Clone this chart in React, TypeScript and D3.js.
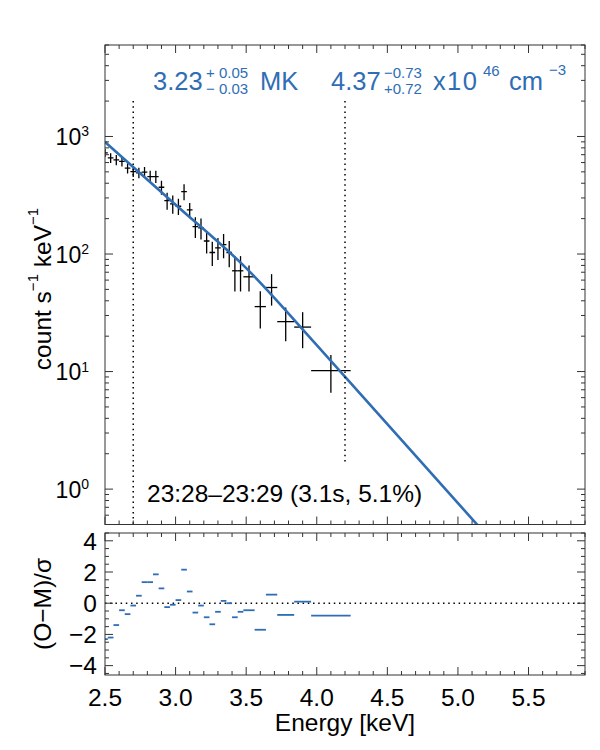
import React from "react";
import * as d3 from "d3";

const width = 600;
const height = 750;
const left = 105;
const right = 585;
const specTop = 45;
const specBottom = 524.5;
const resTop = 533;
const resBottom = 675;

const blue = "#2f6db5";
const frameColor = "#333";
const font = "'Liberation Sans', Arial, Helvetica, sans-serif";

// energy bins [keV]
const binLo = [
  2.48, 2.52, 2.56, 2.6, 2.64, 2.68, 2.72, 2.76, 2.8, 2.84, 2.88, 2.92, 2.96,
  3.0, 3.04, 3.08, 3.12, 3.16, 3.2, 3.24, 3.28, 3.32, 3.36, 3.4, 3.44, 3.48,
  3.56, 3.64, 3.72, 3.84, 3.96,
];
const binHi = [
  2.52, 2.56, 2.6, 2.64, 2.68, 2.72, 2.76, 2.8, 2.84, 2.88, 2.92, 2.96, 3.0,
  3.04, 3.08, 3.12, 3.16, 3.2, 3.24, 3.28, 3.32, 3.36, 3.4, 3.44, 3.48, 3.56,
  3.64, 3.72, 3.84, 3.96, 4.24,
];

// observed count rate and 1-sigma errors [count s^-1 keV^-1]
const rate = [
  726, 658, 632, 615, 537, 503, 491, 497, 456, 456, 370, 285, 267, 255, 340,
  237, 171, 167, 129, 103, 113, 120, 103, 72, 72, 64, 35.7, 51.9, 26.6, 23.9,
  10.2,
];
const rateErr = [
  58, 62, 62, 60, 54, 50, 50, 54, 54, 54, 51, 47, 47, 40, 53, 35, 34, 34, 28,
  24, 24, 28, 26, 24, 24, 16, 12.5, 15.5, 8.5, 8.1, 3.6,
];

// normalised residuals (O-M)/sigma
const residual = [
  -2.3, -2.2, -1.4, -0.45, -0.7, -0.15, 0.48, 1.35, 1.35, 1.85, 0.95, -0.25,
  -0.1, 0.2, 2.15, 0.75, -0.6, -0.15, -0.9, -1.35, -0.55, 0.15, 0.0, -0.9,
  -0.55, -0.45, -1.7, 0.55, -0.75, 0.1, -0.8,
];

// isothermal model
const modelEnergy = [2.5, 3.0, 3.5, 4.0, 4.5, 5.0, 5.3];
const modelRate = [898, 263, 75.9, 16.8, 3.57, 0.76, 0.3];

const fitRange = [2.7, 4.2];
const fitMarkerTop = 2000;
const fitMarkerBottomHi = 1.65;

const x = d3.scaleLinear().domain([2.5, 5.9]).range([left, right]);
const ySpec = d3.scaleLog().domain([0.5, 6000]).range([specBottom, specTop]);
const yRes = d3.scaleLinear().domain([-4.6, 4.5]).range([resBottom, resTop]);

const xMajor = x.ticks(7);
const xMinor = x.ticks(34);
const logTicks = ySpec.ticks();
const isDecade = (t: number) =>
  Math.abs(Math.log10(t) - Math.round(Math.log10(t))) < 1e-6;
const resMajor = yRes.ticks(5);
const resMinor = yRes.ticks(18);

const majorLen = 8;
const minorLen = 4;

function xTickMarks(y0: number, y1: number, key: string) {
  const marks: JSX.Element[] = [];
  xMinor.forEach((t, i) => {
    const major = xMajor.some((m) => Math.abs(m - t) < 1e-9);
    const len = major ? majorLen : minorLen;
    const px = x(t);
    marks.push(<line key={`${key}b${i}`} x1={px} x2={px} y1={y1} y2={y1 - len} />);
    marks.push(<line key={`${key}t${i}`} x1={px} x2={px} y1={y0} y2={y0 + len} />);
  });
  return marks;
}

const model = d3
  .line<number>()
  .x((_, i) => x(modelEnergy[i]))
  .y((d) => ySpec(d))
  .curve(d3.curveMonotoneX)(modelRate);

const fmtRes = (t: number) => (t < 0 ? `\u2212${Math.abs(t)}` : `${t}`);

export default function App() {
  return (
    <svg
      width={width}
      height={height}
      style={{ position: "absolute", left: 0, top: 0, background: "#fff" }}
      fontFamily={font}
    >
      <defs>
        <clipPath id="specClip">
          <rect x={left} y={specTop} width={right - left} height={specBottom - specTop} />
        </clipPath>
        <clipPath id="resClip">
          <rect x={left} y={resTop} width={right - left} height={resBottom - resTop} />
        </clipPath>
      </defs>

      {/* spectrum panel */}
      <g clipPath="url(#specClip)">
        {binLo.map((lo, i) => {
          const c = x((lo + binHi[i]) / 2);
          return (
            <g key={i} stroke="#000" strokeWidth={1.3}>
              <line x1={x(lo)} x2={x(binHi[i])} y1={ySpec(rate[i])} y2={ySpec(rate[i])} />
              <line
                x1={c}
                x2={c}
                y1={ySpec(rate[i] - rateErr[i])}
                y2={ySpec(rate[i] + rateErr[i])}
              />
            </g>
          );
        })}
        <path d={model ?? ""} fill="none" stroke={blue} strokeWidth={2.6} />
      </g>

      {/* fit range markers */}
      <line
        x1={x(fitRange[0])}
        x2={x(fitRange[0])}
        y1={ySpec(fitMarkerTop)}
        y2={specBottom}
        stroke="#000"
        strokeWidth={1.5}
        strokeDasharray="1.5 3.7"
      />
      <line
        x1={x(fitRange[1])}
        x2={x(fitRange[1])}
        y1={ySpec(fitMarkerTop)}
        y2={ySpec(fitMarkerBottomHi)}
        stroke="#000"
        strokeWidth={1.5}
        strokeDasharray="1.5 3.7"
      />

      <g stroke={frameColor} strokeWidth={1}>
        <rect x={left} y={specTop} width={right - left} height={specBottom - specTop} fill="none" />
        {xTickMarks(specTop, specBottom, "s")}
        {logTicks.map((t, i) => {
          const len = isDecade(t) ? majorLen : minorLen;
          const py = ySpec(t);
          return (
            <g key={`ly${i}`}>
              <line x1={left} x2={left + len} y1={py} y2={py} />
              <line x1={right} x2={right - len} y1={py} y2={py} />
            </g>
          );
        })}
      </g>

      {logTicks.filter(isDecade).map((t) => (
        <text key={`lt${t}`} x={89} y={ySpec(t) + 8.5} textAnchor="end" fontSize={23}>
          10
          <tspan dy={-8.5} fontSize={14}>
            {Math.round(Math.log10(t))}
          </tspan>
        </text>
      ))}

      <text transform={`translate(51, 289) rotate(-90)`} textAnchor="middle" fontSize={24.5}>
        count s
        <tspan dy={-13} fontSize={15}>
          {"\u22121"}
        </tspan>
        <tspan dy={13}> keV</tspan>
        <tspan dy={-13} fontSize={15}>
          {"\u22121"}
        </tspan>
      </text>

      {/* fit parameters */}
      <g fill={blue}>
        <text x={153} y={90} fontSize={25.5}>3.23</text>
        <text x={206} y={77.5} fontSize={15}>+ 0.05</text>
        <text x={206} y={94.3} fontSize={15}>{"\u2212 0.03"}</text>
        <text x={260} y={90} fontSize={25.5}>MK</text>
        <text x={331} y={90} fontSize={25.5}>4.37</text>
        <text x={384} y={77.5} fontSize={15}>{"\u22120.73"}</text>
        <text x={384} y={94.3} fontSize={15}>+0.72</text>
        <text x={433} y={90} fontSize={25.5}>x</text>
        <text x={447} y={90} fontSize={25.5} letterSpacing={1.5}>10</text>
        <text x={483} y={75.7} fontSize={15}>46</text>
        <text x={509} y={90} fontSize={25.5}>cm</text>
        <text x={549} y={74.5} fontSize={15}>{"\u22123"}</text>
      </g>

      <text x={147} y={502} fontSize={24.5}>
        {"23:28\u201323:29 (3.1s, 5.1%)"}
      </text>

      {/* residual panel */}
      <line
        x1={left}
        x2={right}
        y1={yRes(0)}
        y2={yRes(0)}
        stroke="#000"
        strokeWidth={1.5}
        strokeDasharray="1.5 3.7"
      />
      <g clipPath="url(#resClip)" stroke={blue} strokeWidth={1.8}>
        {binLo.map((lo, i) => (
          <line key={i} x1={x(lo)} x2={x(binHi[i])} y1={yRes(residual[i])} y2={yRes(residual[i])} />
        ))}
      </g>

      <g stroke={frameColor} strokeWidth={1}>
        <rect x={left} y={resTop} width={right - left} height={resBottom - resTop} fill="none" />
        {xTickMarks(resTop, resBottom, "r")}
        {resMinor.map((t, i) => {
          const major = resMajor.some((m) => Math.abs(m - t) < 1e-9);
          const len = major ? majorLen : minorLen;
          const py = yRes(t);
          return (
            <g key={`ry${i}`}>
              <line x1={left} x2={left + len} y1={py} y2={py} />
              <line x1={right} x2={right - len} y1={py} y2={py} />
            </g>
          );
        })}
      </g>

      {resMajor.map((t) => (
        <text key={`rt${t}`} x={97} y={yRes(t) + 8.7} textAnchor="end" fontSize={24.5}>
          {fmtRes(t)}
        </text>
      ))}

      <text transform={`translate(51, 604) rotate(-90)`} textAnchor="middle" fontSize={24.5}>
        {"(O\u2212M)/\u03c3"}
      </text>

      {xMajor.map((t) => (
        <text key={`xt${t}`} x={x(t)} y={706} textAnchor="middle" fontSize={24.5}>
          {t.toFixed(1)}
        </text>
      ))}
      <text x={(left + right) / 2} y={731} textAnchor="middle" fontSize={24.5}>
        Energy [keV]
      </text>
    </svg>
  );
}
